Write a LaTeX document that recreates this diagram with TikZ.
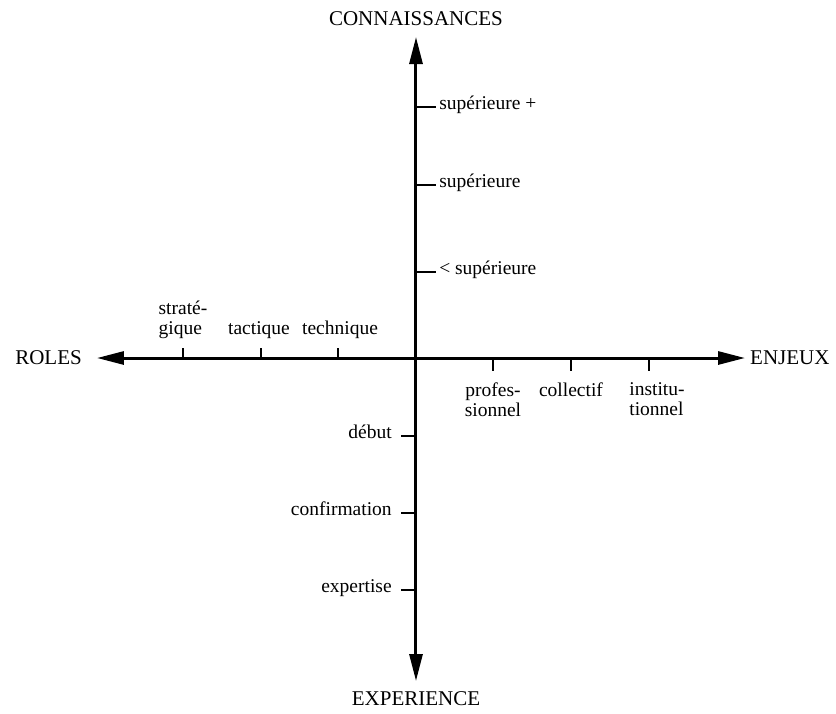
\documentclass[tikz,border=0pt]{standalone}
\usepackage{fontspec}
\setmainfont{Liberation Serif}
\usetikzlibrary{arrows.meta}
\tikzset{>={Triangle[length=27pt,width=13pt]}}

\begin{document}
\begin{tikzpicture}[x=1pt,y=1pt,
    axe/.style={line width=3pt,<->},
    trait/.style={line width=2.6pt},
    titre/.style={font=\fontsize{21}{22}\selectfont},
    lab/.style={font=\fontsize{19.5}{20}\selectfont,inner sep=0pt}]
                \useasboundingbox (-416,-355) rectangle (420,358);
               %\draw[gray] (-400,-340) grid[step=50] (400,340);
                \coordinate (O) at (0,0);
                \coordinate (N) at (0,321);
                \coordinate (S) at (0,-323);
                \coordinate (W) at (-319,0);
                \coordinate (E) at (329,0);
                \draw[axe] (W) -- (E);
                \draw[axe] (S) -- (N);
                \node[titre] (conn) at (0,339) {CONNAISSANCES};
                \node[titre] (exp) at (0,-341) {EXPERIENCE};
                \node[titre,anchor=east,inner sep=0pt] (roles) at (-334,0) {ROLES};
                \node[titre,anchor=west,inner sep=0pt] (enjeux) at (334,0) {ENJEUX};
                % graduations du haut
                \foreach \y/\n/\t in {86/sup1/{< supérieure},173/sup2/supérieure,251/sup3/{supérieure +}}
                    \draw[trait] (0,\y) -- (20,\y) node[lab,anchor=mid west,xshift=2pt] (\n) {\t};
                % graduations du bas
                \foreach \y/\n/\t in {-78/deb/début,-155/conf/confirmation,-232/expe/expertise}
                    \draw[trait] (0,\y) -- (-15,\y) node[lab,anchor=mid east,xshift=-8pt] (\n) {\t};
                % roles
                \draw[trait] (-233,0) -- (-233,10) node[lab,anchor=south,align=left,yshift=8pt] (strat) {straté-\\gique};
                \draw[trait] (-155,0) -- (-155,10) node[lab,anchor=south,xshift=-2pt,yshift=8pt] (tact) {tactique};
                \draw[trait] (-78,0) -- (-78,10) node[lab,anchor=south,xshift=2pt,yshift=8pt] (tech) {technique};
                % enjeux
                \draw[trait] (77,0) -- (77,-13) node[lab,anchor=north,align=center,yshift=-10pt] (prof) {profes-\\sionnel};
                \draw[trait] (155,0) -- (155,-13) node[lab,anchor=north,yshift=-10pt] (coll) {collectif};
                \draw[trait] (233,0) -- (233,-13) node[lab,anchor=north,align=left,xshift=8pt,yshift=-10pt] (inst) {institu-\\tionnel};
\end{tikzpicture}
\end{document}
